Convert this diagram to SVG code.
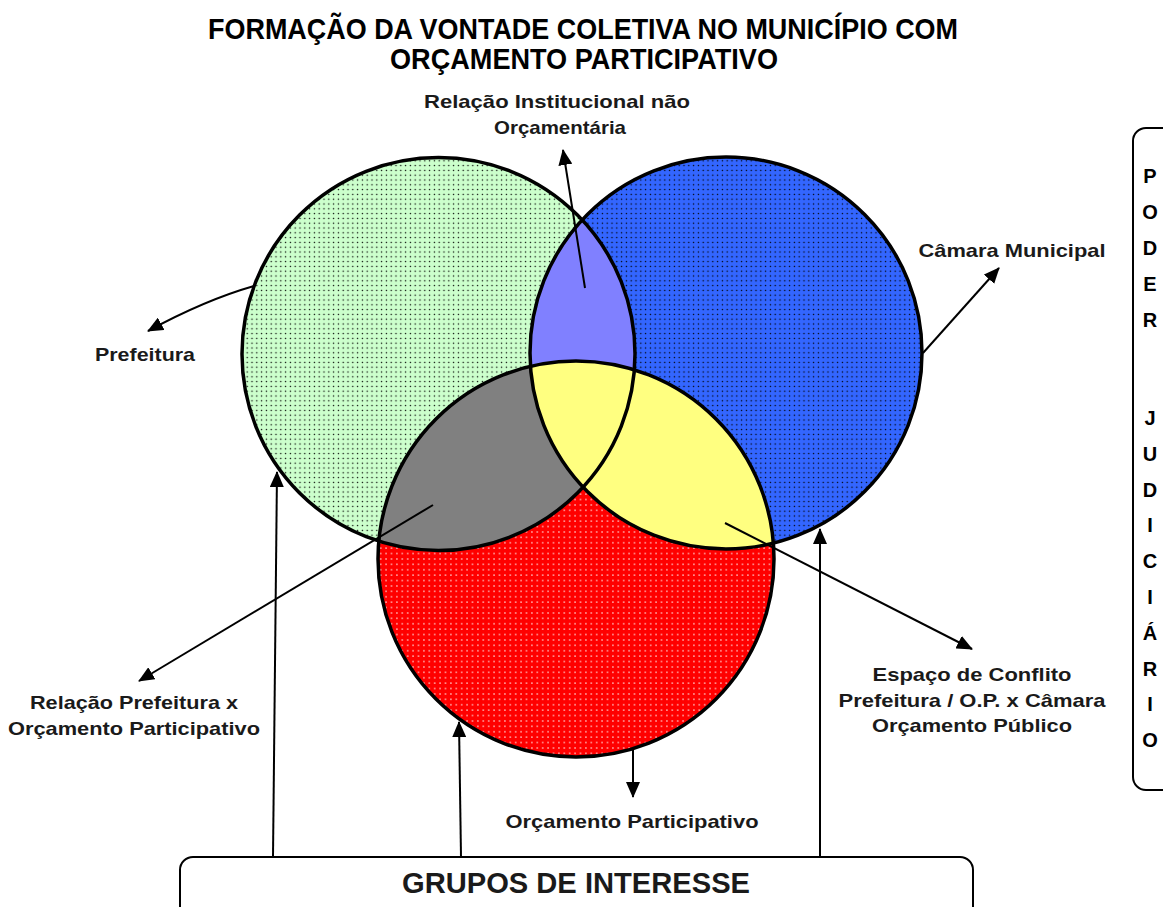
<svg xmlns="http://www.w3.org/2000/svg" width="1163" height="907" viewBox="0 0 1163 907">
<style>
text{font-family:"Liberation Sans",Arial,sans-serif;font-weight:bold;fill:#1a1a1a}
.lbl{font-size:19px;text-anchor:middle}
.ttl{font-size:30px;text-anchor:middle;fill:#000}
.pj{font-size:20px;text-anchor:middle;fill:#000}
.edge{fill:none;stroke:#000;stroke-width:3.5}
.arr{fill:none;stroke:#000;stroke-width:2;marker-end:url(#ah)}
.box{fill:#fff;stroke:#000;stroke-width:2}
</style>
<defs>
<marker id="ah" viewBox="0 0 16 14" refX="15" refY="7" markerWidth="16" markerHeight="14" markerUnits="userSpaceOnUse" orient="auto">
<path d="M0,0 L16,7 L0,14 z" fill="#000"/>
</marker>
<pattern id="pg" width="4.8" height="4.8" patternUnits="userSpaceOnUse">
<rect width="4.8" height="4.8" fill="#CCFFCC"/><circle cx="2.4" cy="2.4" r="0.75" fill="#000"/>
</pattern>
<pattern id="pb" width="4.8" height="4.8" patternUnits="userSpaceOnUse">
<rect width="4.8" height="4.8" fill="#3366FF"/><circle cx="2.4" cy="2.4" r="0.75" fill="#000"/>
</pattern>
<pattern id="pr" width="5.4" height="5.4" patternUnits="userSpaceOnUse">
<rect width="5.4" height="5.4" fill="#FF0000"/><circle cx="2.7" cy="2.7" r="0.75" fill="#fff"/>
</pattern>
<clipPath id="cg"><circle cx="438.5" cy="354" r="196.5"/></clipPath>
<clipPath id="cb"><circle cx="726" cy="353" r="196"/></clipPath>
</defs>
<rect width="1163" height="907" fill="#fff"/>

<g id="title">
<text class="ttl" x="583" y="39" textLength="750" lengthAdjust="spacingAndGlyphs">FORMAÇÃO DA VONTADE COLETIVA NO MUNICÍPIO COM</text>
<text class="ttl" x="584" y="69" textLength="388" lengthAdjust="spacingAndGlyphs">ORÇAMENTO PARTICIPATIVO</text>
</g>

<g id="node-prefeitura"><circle cx="438.5" cy="354" r="196.5" fill="url(#pg)"/></g>
<g id="node-camara"><circle cx="726" cy="353" r="196" fill="url(#pb)"/></g>
<g id="node-orcamento"><circle cx="576" cy="559" r="198" fill="url(#pr)"/></g>
<g id="intersections">
<circle cx="726" cy="353" r="196" fill="#8080FF" clip-path="url(#cg)"/>
<circle cx="576" cy="559" r="198" fill="#808080" clip-path="url(#cg)"/>
<circle cx="576" cy="559" r="198" fill="#FFFF80" clip-path="url(#cb)"/>
</g>
<g id="outlines">
<circle class="edge" cx="438.5" cy="354" r="196.5"/>
<circle class="edge" cx="726" cy="353" r="196"/>
<circle class="edge" cx="576" cy="559" r="198"/>
</g>

<g id="poder-judiciario">
<rect class="box" x="1133" y="128" width="60" height="662" rx="13"/>
<text class="pj" x="1150" y="183">P</text>
<text class="pj" x="1150" y="219">O</text>
<text class="pj" x="1150" y="255">D</text>
<text class="pj" x="1150" y="291">E</text>
<text class="pj" x="1150" y="327">R</text>
<text class="pj" x="1150" y="425">J</text>
<text class="pj" x="1150" y="461">U</text>
<text class="pj" x="1150" y="497">D</text>
<text class="pj" x="1150" y="532">I</text>
<text class="pj" x="1150" y="568">C</text>
<text class="pj" x="1150" y="604">I</text>
<text class="pj" x="1150" y="640">Á</text>
<text class="pj" x="1150" y="676">R</text>
<text class="pj" x="1150" y="711">I</text>
<text class="pj" x="1150" y="747">O</text>
</g>

<g id="grupos-de-interesse">
<rect class="box" x="180" y="857" width="793" height="70" rx="13"/>
<text x="576" y="893" font-size="29" text-anchor="middle" fill="#000" textLength="348" lengthAdjust="spacingAndGlyphs">GRUPOS DE INTERESSE</text>
</g>

<g id="connectors">
<path class="arr" d="M254,286 Q205,300 148,331"/>
<line class="arr" x1="923" y1="353" x2="999" y2="268"/>
<line class="arr" x1="585" y1="288" x2="563" y2="150"/>
<line class="arr" x1="433" y1="505" x2="139" y2="681"/>
<line class="arr" x1="725" y1="523" x2="972" y2="649"/>
<line class="arr" x1="633" y1="749" x2="633" y2="797"/>
<line class="arr" x1="273" y1="857" x2="277" y2="472"/>
<line class="arr" x1="461" y1="857" x2="459" y2="722"/>
<line class="arr" x1="820" y1="857" x2="820" y2="529"/>
</g>

<g id="labels">
<text class="lbl" x="557" y="108" textLength="266" lengthAdjust="spacingAndGlyphs">Relação Institucional não</text>
<text class="lbl" x="560" y="134" textLength="132" lengthAdjust="spacingAndGlyphs">Orçamentária</text>
<text class="lbl" x="145" y="361" textLength="100" lengthAdjust="spacingAndGlyphs">Prefeitura</text>
<text class="lbl" x="1012" y="257" textLength="187" lengthAdjust="spacingAndGlyphs">Câmara Municipal</text>
<text class="lbl" x="134" y="709" textLength="208" lengthAdjust="spacingAndGlyphs">Relação Prefeitura x</text>
<text class="lbl" x="134" y="735" textLength="252" lengthAdjust="spacingAndGlyphs">Orçamento Participativo</text>
<text class="lbl" x="972" y="681" textLength="199" lengthAdjust="spacingAndGlyphs">Espaço de Conflito</text>
<text class="lbl" x="972" y="707" textLength="267" lengthAdjust="spacingAndGlyphs">Prefeitura / O.P. x Câmara</text>
<text class="lbl" x="972" y="732" textLength="200" lengthAdjust="spacingAndGlyphs">Orçamento Público</text>
<text class="lbl" x="632" y="828" textLength="253" lengthAdjust="spacingAndGlyphs">Orçamento Participativo</text>
</g>
</svg>
